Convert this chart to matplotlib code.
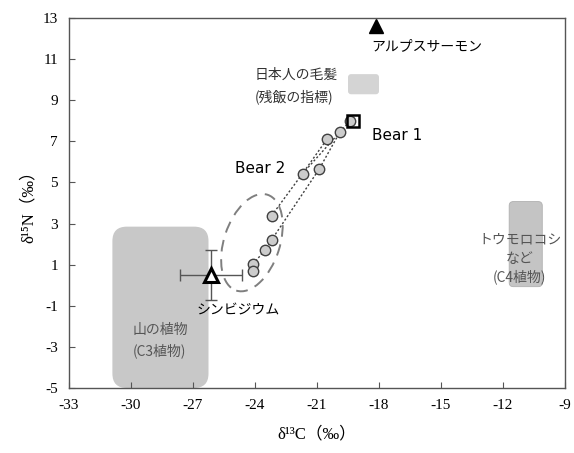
import matplotlib
matplotlib.use("Agg")
import matplotlib.pyplot as plt
from matplotlib.patches import FancyBboxPatch, Ellipse

JP = ['Noto Sans CJK JP', 'DejaVu Sans']
SERIF = ['Liberation Serif', 'DejaVu Serif', 'Noto Sans CJK JP']

# ---- data ----
# hair samples (dotted trajectories)
line1_c = [-23.2, -21.7, -20.5]
line1_n = [3.38, 5.43, 7.13]
line2_c = [-24.1, -23.5, -23.2, -20.9, -19.9, -19.4]
line2_n = [1.02, 1.73, 2.20, 5.64, 7.44, 7.99]
line3_c = [-21.7, -19.9]
line3_n = [5.43, 7.44]
extra_c = [-24.1]
extra_n = [0.71]

bear1 = (-19.25, 8.0)
salmon = (-18.15, 12.6)
cymbid = (-26.15, 0.5)
cymbid_xerr = 1.5
cymbid_yerr = 1.2

xticks = [-33, -30, -27, -24, -21, -18, -15, -12, -9]
yticks = [13, 11, 9, 7, 5, 3, 1, -1, -3, -5]

fig = plt.figure(figsize=(5.74, 4.53), dpi=100)
ax = fig.add_axes([69/574, 1-388/453, (565-69)/574, (388-18)/453])
ax.set_xlim(-33, -9)
ax.set_ylim(-5, 13)

# rounded boxes
c3 = FancyBboxPatch((-30.9 + 0.7, -5 + 0.7), (-26.25 + 30.9) - 1.4, (2.85 + 5) - 1.4,
                    boxstyle="round,pad=0.7", fc='#c8c8c8', ec='none', zorder=1)
ax.add_patch(c3)
c4 = FancyBboxPatch((-11.7 + 0.2, -0.07 + 0.2), 1.6 - 0.4, 4.14 - 0.4,
                    boxstyle="round,pad=0.2", fc='#c4c4c4', ec='#b0b0b0', lw=0.6, zorder=1)
ax.add_patch(c4)
hb = FancyBboxPatch((-19.5 + 0.15, 9.29 + 0.15), 1.5 - 0.3, 0.98 - 0.3,
                    boxstyle="round,pad=0.15", fc='#d4d4d4', ec='none', zorder=1)
ax.add_patch(hb)

# ellipse
ell = Ellipse((-24.15, 2.07), 2.7, 4.9, angle=-18, fill=False, ec='#7f7f7f',
              lw=1.4, ls=(0, (6, 4)), zorder=2)
ax.add_patch(ell)

ls = (0, (1.5, 1.5))
for cx, ny in [(line1_c, line1_n), (line2_c, line2_n), (line3_c, line3_n)]:
    ax.plot(cx, ny, color='#404040', lw=1, ls=ls, zorder=3)

allc = line1_c + line2_c + extra_c
alln = line1_n + line2_n + extra_n
ax.plot(allc, alln, ls='none', marker='o', ms=7.5, mfc='#cccccc', mec='#404040',
        mew=1.0, zorder=4)

ax.plot([bear1[0]], [bear1[1]], ls='none', marker='s', ms=8.5, mfc='none',
        mec='black', mew=1.8, zorder=5)

ax.plot([salmon[0]], [salmon[1]], ls='none', marker='^', ms=10, mfc='black',
        mec='black', zorder=5)

ax.errorbar([cymbid[0]], [cymbid[1]], xerr=cymbid_xerr, yerr=cymbid_yerr,
            fmt='none', ecolor='#555555', elinewidth=1, capsize=4, capthick=1, zorder=5)
ax.plot([cymbid[0]], [cymbid[1]], ls='none', marker='^', ms=10, mfc='white',
        mec='black', mew=2.2, zorder=6)

# text
ax.text(-18.35, 11.64, 'アルプスサーモン', family=JP, fontsize=10, ha='left', va='center')
ax.text(-24.0, 10.23, '日本人の毛髪', family=JP, fontsize=10, ha='left', va='center', color='#333333')
ax.text(-24.0, 9.16, '(残飯の指標)', family=JP, fontsize=10, ha='left', va='center', color='#333333')
ax.text(-18.35, 7.3, 'Bear 1', family=['DejaVu Sans'], fontsize=11, ha='left', va='center')
ax.text(-24.95, 5.7, 'Bear 2', family=['DejaVu Sans'], fontsize=11, ha='left', va='center')
ax.text(-24.8, -1.25, 'シンビジウム', family=JP, fontsize=10, ha='center', va='center')
ax.text(-28.6, -2.2, '山の植物', family=JP, fontsize=10, ha='center', va='center', color='#555555')
ax.text(-28.6, -3.2, '(C3植物)', family=JP, fontsize=10, ha='center', va='center', color='#555555')
ax.text(-11.2, 2.2, 'トウモロコシ', family=JP, fontsize=10, ha='center', va='center', color='#555555')
ax.text(-11.2, 1.3, 'など', family=JP, fontsize=10, ha='center', va='center', color='#555555')
ax.text(-11.2, 0.4, '(C4植物)', family=JP, fontsize=10, ha='center', va='center', color='#555555')

ax.set_xticks(xticks)
ax.set_yticks(yticks)
ax.set_xticklabels([str(v) for v in xticks], family=SERIF, fontsize=11)
ax.set_yticklabels([str(v) for v in yticks], family=SERIF, fontsize=11)
ax.tick_params(direction='in', length=4, width=0.8, color='#555555', pad=8)
for s in ax.spines.values():
    s.set_color('#555555')
    s.set_linewidth(1.0)

ax.set_xlabel('δ¹³C（‰）', family=SERIF, fontsize=12, labelpad=10)
ax.set_ylabel('δ¹⁵N（‰）', family=SERIF, fontsize=12, labelpad=4)

fig.savefig('out.png', dpi=100)
